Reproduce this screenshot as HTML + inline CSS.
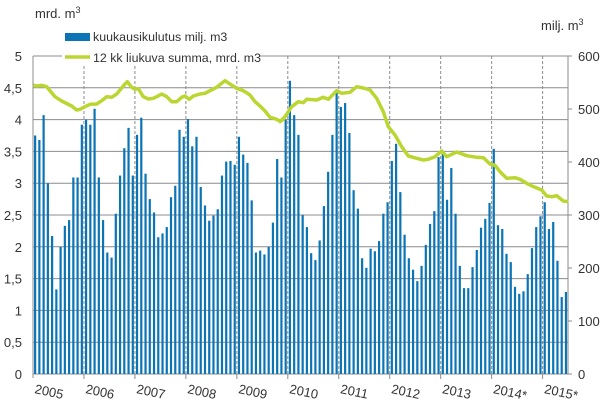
<!DOCTYPE html>
<html><head><meta charset="utf-8"><style>
html,body{margin:0;padding:0;background:#fff;}
svg{display:block;font-family:"Liberation Sans",sans-serif;}
</style></head><body>
<svg id="c" width="606" height="416" viewBox="0 0 606 416" xmlns="http://www.w3.org/2000/svg">
<g id="grid"></g>
<g id="bars"></g>
<rect x="62" y="24" width="198" height="40" fill="#fff"/>
<polyline id="ln" fill="none" stroke="#bcd631" stroke-width="3.5" stroke-linejoin="round"/>
<g font-size="13" fill="#333">
<text x="35" y="18">mrd. m<tspan font-size="9" dy="-5">3</tspan></text>
<text x="541" y="30">milj. m<tspan font-size="9" dy="-5">3</tspan></text>
<rect x="65" y="33" width="25" height="8" fill="#0a74b5"/>
<text x="93" y="41" font-size="12.4">kuukausikulutus milj. m3</text>
<line x1="65" y1="57" x2="90" y2="57" stroke="#bcd631" stroke-width="3.5"/>
<text x="93" y="62" font-size="12.4">12 kk liukuva summa, mrd. m3</text>
</g>
<g id="lab" font-size="13" fill="#333"></g>
</svg>
<script>
var NS="http://www.w3.org/2000/svg";
function el(p,n,a,t){var e=document.createElementNS(NS,n);for(var k in a)e.setAttribute(k,a[k]);if(t!==undefined)e.textContent=t;document.getElementById(p).appendChild(e);return e;}
var x0=33,yw=50.96,y0=374,u=63.6,xr=568;
for(var i=1;i<=10;i++){var y=y0-i*0.5*u;el("grid","line",{x1:x0,x2:xr,y1:y,y2:y,stroke:"#8c8c8c","stroke-width":1});}
for(var i=0;i<=10;i++){var y=y0-i*0.5*u;var s=(i*0.5).toString().replace(".",",");el("lab","text",{x:22,y:y+5,"text-anchor":"end"},s);}
for(var i=0;i<=6;i++){var y=y0-i*100*u*5/600;el("lab","text",{x:578,y:y+5},String(i*100));el("grid","line",{x1:xr,x2:xr+4,y1:y,y2:y,stroke:"#8c8c8c"});}
el("grid","line",{x1:x0,x2:x0,y1:56,y2:y0+4,stroke:"#8c8c8c"});
el("grid","line",{x1:xr,x2:xr,y1:56,y2:y0,stroke:"#8c8c8c"});
el("grid","line",{x1:x0,x2:xr,y1:y0,y2:y0,stroke:"#8c8c8c"});
for(var k=1;k<=10;k++){var x=x0+k*yw;el("grid","line",{x1:x,x2:x,y1:56,y2:y0,stroke:"#8c8c8c","stroke-dasharray":"3,2"});el("grid","line",{x1:x,x2:x,y1:y0,y2:y0+5,stroke:"#8c8c8c"});}
var yrs=["2005","2006","2007","2008","2009","2010","2011","2012","2013","2014*","2015*"];
for(var k=0;k<11;k++){var x=x0+k*yw+1,y=393;el("lab","text",{x:x,y:y,transform:"rotate(12 "+x+" "+y+")"},yrs[k]);}
var d=[3.75,3.68,4.07,3.0,2.17,1.33,2.0,2.33,2.42,3.09,3.09,3.92,
4.0,3.92,4.17,3.09,2.42,1.91,1.83,2.52,3.12,3.55,3.87,3.12,
3.76,4.03,3.15,2.75,2.54,2.15,2.21,2.31,2.78,2.96,3.84,3.73,
4.01,3.58,3.73,2.94,2.65,2.41,2.49,2.59,3.12,3.34,3.35,3.29,
3.73,3.45,3.32,2.73,1.91,1.94,1.88,2.0,2.38,3.38,3.09,4.0,
4.61,4.07,3.76,2.5,2.31,1.9,1.79,2.1,2.64,3.18,3.76,4.43,
4.2,4.26,3.79,2.89,2.6,1.82,1.67,1.97,1.93,2.09,2.52,2.7,
3.35,3.62,2.86,2.19,1.82,1.64,1.46,1.7,2.03,2.36,2.56,3.41,
3.46,2.74,3.24,2.52,1.7,1.35,1.35,1.68,1.95,2.3,2.44,2.69,
3.54,2.34,2.28,1.89,1.76,1.37,1.26,1.3,1.57,1.98,2.31,2.48,
2.7,2.28,2.39,1.78,1.21,1.29];
var sw=yw/12;
for(var i=0;i<d.length;i++){var x=x0+i*sw+sw/2-1.1;var h=d[i]*u;el("bars","rect",{x:x,y:y0-h,width:2.2,height:h,fill:"#0a74b5"});}
var p1=[[100,255],[110,258],[125,256],[140,260],[150,272],[165,290],[185,303],[215,318],[230,330],[240,328],[255,320],[270,313],[290,312],[305,302],[320,290],[335,292],[350,282],[370,258],[382,245],[395,262],[405,268],[415,266],[430,290],[445,297],[460,295],[470,290],[485,282],[500,290],[515,305],[530,305],[545,292],[555,288],[568,298],[580,288],[600,282],[615,280],[630,272],[650,262],[665,250],[675,242],[690,252],[710,265],[730,272],[750,285],[765,305],[780,318],[795,333],[810,352],[825,356],[840,363],[850,358]];
var p2=[[0,185],[15,170],[35,140],[55,125],[70,128],[80,118],[110,120],[130,112],[145,118],[170,92],[185,100],[210,97],[230,80],[250,84],[270,90],[290,115],[310,155],[325,200],[345,225],[365,260],[385,288],[410,295],[430,300],[445,298],[465,290],[485,273],[500,290],[530,276],[560,287],[590,292],[610,293],[630,312],[645,316],[660,335],[680,355],[705,353],[720,358],[745,373],[765,382],[785,390],[800,408],[815,410],[830,407],[850,423],[865,425]];
var pts=[];p1.forEach(function(p){pts.push((p[0]/3).toFixed(1)+","+(p[1]/3).toFixed(1));});
p2.forEach(function(p){pts.push((p[0]/3+280).toFixed(1)+","+(p[1]/3+60).toFixed(1));});
document.getElementById("ln").setAttribute("points",pts.join(" "));
</script>
</body></html>
